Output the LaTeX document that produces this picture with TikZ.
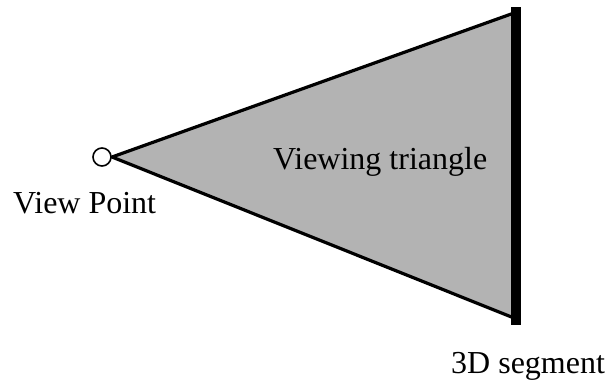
\documentclass[tikz,border=0pt]{standalone}
\usepackage{fontspec}
\setmainfont{Liberation Serif}
\definecolor{trigray}{RGB}{179,179,179}
\begin{document}
\begin{tikzpicture}[x=1pt,y=-1pt,
  lbl/.style={inner sep=0pt,font=\fontsize{32}{36}\selectfont},
  edge/.style={line width=3.2pt,line join=round},
  seg/.style={line width=10pt}]
\useasboundingbox (0,0) rectangle (607,381);
\coordinate (top) at (514,13);
\coordinate (bot) at (514,318);
\coordinate (segtop) at (516,7);
\coordinate (segbot) at (516,325);
\node[circle,draw,line width=1.6pt,minimum size=18pt,inner sep=0pt,fill=white] (vp) at (102,157) {};
\coordinate (apex) at (112,157);
\fill[trigray] (apex) -- (top) -- (bot) -- cycle;
\draw[edge] (top) -- (apex) -- (bot);
\draw[seg] (segtop) -- (segbot);
\node[lbl,anchor=base west] (vpl) at (13,213) {View Point};
\node[lbl,anchor=base west] (vt) at (273,169) {Viewing triangle};
\node[lbl,anchor=base west] (sl) at (451,373) {3D segment};
\end{tikzpicture}
\end{document}
